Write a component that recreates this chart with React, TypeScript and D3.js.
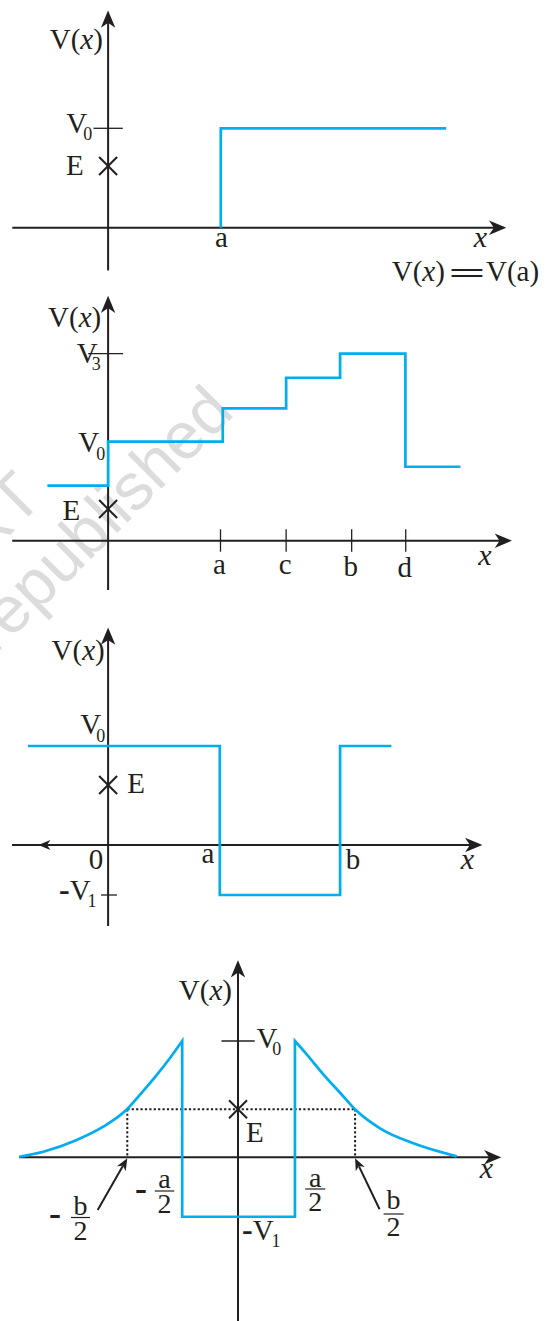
import React from 'react'
import * as d3 from 'd3'

const INK = '#231f20'
const BLUE = '#00aeef'
const SERIF = "'Liberation Serif', 'Times New Roman', Times, serif"
const SANS = "'Liberation Sans', Arial, sans-serif"

// panel 1 - potential step at x = a
const P1_STEP: [number, number][] = [[1, 0], [1, 1], [3, 1]]
const P1_E = 0.62
const P1_X_EXTENT = [-0.85, 3.51]
const P1_Y_EXTENT = [-0.43, 2.16]

// panel 2 - staircase, edges in units of a, levels in units of V0
const P2_EDGES = [-0.54, 0, 1.02, 1.584, 2.064, 2.645, 3.135]
const P2_LEVELS = [0.556, 1, 1.337, 1.646, 1.89, 0.747, 0.747]
const P2_TICKS = [
  { label: 'a', x: 1 },
  { label: 'c', x: 1.584 },
  { label: 'b', x: 2.167 },
  { label: 'd', x: 2.648 },
]
const P2_V3 = 1.89
const P2_E = 0.32
const P2_X_EXTENT = [-0.853, 3.57]
const P2_Y_EXTENT = [-0.498, 2.448]

// panel 3 - square well between a and b
const P3_EDGES = [-0.718, 1, 2.077, 2.536]
const P3_LEVELS = [1, -0.505, 1, 1]
const P3_V1 = -0.505
const P3_B = 2.077
const P3_E = 0.606
const P3_X_EXTENT = [-0.86, 3.327]
const P3_LEFT_HEAD = -0.624
const P3_Y_EXTENT = [-0.818, 2.17]

// panel 4 - well with decaying walls, x in units of b/2
const P4_LEFT: [number, number][] = [
  [-1.92, 0.005], [-1.709, 0.048], [-1.416, 0.149], [-1.183, 0.263],
  [-0.972, 0.415], [-0.85, 0.55], [-0.72, 0.7], [-0.6, 0.85], [-0.49, 1.0],
]
const P4_RIGHT: [number, number][] = [
  [0.5, 1.0], [0.603, 0.886], [0.749, 0.714], [0.896, 0.555], [1.027, 0.413],
  [1.247, 0.249], [1.539, 0.12], [1.92, 0.008],
]
const P4_WELL = [-0.49, 0.5]
const P4_V1 = -0.511
const P4_E = 0.413
const P4_B_HALF = [-0.972, 1.028]
const P4_ARROW_TAILS: [number, number][] = [[-1.232, -0.453], [1.243, -0.447]]
const P4_X_EXTENT = [-1.921, 2.29]
const P4_Y_EXTENT = [-1.41, 1.673]

type Scale = d3.ScaleLinear<number, number>

function Head({ x, y, angle, len = 12, half = 5 }: { x: number; y: number; angle: number; len?: number; half?: number }) {
  const d = `M0,0L${-len},${-half}L${-len * 0.72},0L${-len},${half}Z`
  return <path d={d} transform={`translate(${x},${y}) rotate(${angle})`} fill={INK} />
}

function Axes({ x, y, xExt, yExt }: { x: Scale; y: Scale; xExt: number[]; yExt: number[] }) {
  const x0 = x(0)
  const y0 = y(0)
  return (
    <g stroke={INK} strokeWidth={2}>
      <line x1={x(xExt[0])} x2={x(xExt[1]) - 8} y1={y0} y2={y0} />
      <line x1={x0} x2={x0} y1={y(yExt[0])} y2={y(yExt[1]) + 8} />
      <Head x={x(xExt[1])} y={y0} angle={0} />
      <Head x={x0} y={y(yExt[1])} angle={-90} />
    </g>
  )
}

function Cross({ cx, cy, r = 9 }: { cx: number; cy: number; r?: number }) {
  return (
    <g stroke={INK} strokeWidth={2}>
      <line x1={cx - r} y1={cy - r} x2={cx + r} y2={cy + r} />
      <line x1={cx - r} y1={cy + r} x2={cx + r} y2={cy - r} />
    </g>
  )
}

function T({ x, y, anchor = 'start', size = 29, italic = false, children }: any) {
  return (
    <text x={x} y={y} textAnchor={anchor} fontFamily={SERIF} fontSize={size} fill={INK} fontStyle={italic ? 'italic' : 'normal'}>
      {children}
    </text>
  )
}

function VxLabel({ x, y }: { x: number; y: number }) {
  return (
    <T x={x} y={y} anchor="end">
      V(<tspan fontStyle="italic">x</tspan>)
    </T>
  )
}

function SubLabel({ x, y, sub, dx, dy = 6.7, minus = false }: { x: number; y: number; sub: string; dx: number; dy?: number; minus?: boolean }) {
  return (
    <T x={x} y={y}>
      {minus && <tspan fontWeight="bold" fontSize={32}>-</tspan>}
      V<tspan dx={dx} dy={dy} fontSize={18}>{sub}</tspan>
    </T>
  )
}

function Fraction({ cx, num, numY, barY, denY, w }: { cx: number; num: string; numY: number; barY: number; denY: number; w: number }) {
  return (
    <g>
      <T x={cx} y={numY} anchor="middle" size={28}>{num}</T>
      <line x1={cx - w / 2} x2={cx + w / 2} y1={barY} y2={barY} stroke={INK} strokeWidth={1.2} />
      <T x={cx} y={denY} anchor="middle" size={28}>2</T>
    </g>
  )
}

function Minus({ x, y }: { x: number; y: number }) {
  return (
    <text x={x} y={y} fontFamily={SERIF} fontSize={36} fontWeight="bold" fill={INK}>-</text>
  )
}

function Panel1() {
  const x = d3.scaleLinear().domain([0, 1]).range([108.1, 220.8])
  const y = d3.scaleLinear().domain([0, 1]).range([227.7, 128.3])
  const line = d3.line<[number, number]>().x(d => x(d[0])).y(d => y(d[1]))
  return (
    <g>
      <Axes x={x} y={y} xExt={P1_X_EXTENT} yExt={P1_Y_EXTENT} />
      <line x1={x(0) - 14.6} x2={x(0) + 14.7} y1={y(1)} y2={y(1)} stroke={INK} strokeWidth={1.3} />
      <path d={line(P1_STEP) ?? ''} fill="none" stroke={BLUE} strokeWidth={2.7} />
      <Cross cx={x(0)} cy={y(P1_E)} />
      <VxLabel x={x(0) - 5.2} y={48.5} />
      <SubLabel x={66.3} y={y(1) + 5} sub="0" dx={-4} />
      <T x={x(0) - 24.4} y={y(P1_E) + 9} anchor="end">E</T>
      <T x={x(1) + 0.7} y={y(0) + 19} anchor="middle">a</T>
      <T x={480.5} y={y(0) + 19} anchor="middle" size={30} italic>x</T>
      <T x={391.7} y={280.7}>V(<tspan fontStyle="italic">x</tspan>)</T>
      <text x={448.3} y={282.5} fontFamily={SERIF} fontSize={29} fontWeight="bold" fill={INK} textLength={37.7} lengthAdjust="spacingAndGlyphs">=</text>
      <T x={486} y={280.7}>V(a)</T>
    </g>
  )
}

function Panel2() {
  const x = d3.scaleLinear().domain([0, 1]).range([108.1, 220.5])
  const y = d3.scaleLinear().domain([0, 1]).range([540.7, 441.7])
  const pts = P2_EDGES.map((e, i) => [e, P2_LEVELS[i]] as [number, number])
  const line = d3.line<[number, number]>().x(d => x(d[0])).y(d => y(d[1])).curve(d3.curveStepAfter)
  return (
    <g>
      <Axes x={x} y={y} xExt={P2_X_EXTENT} yExt={P2_Y_EXTENT} />
      <line x1={x(0) - 20} x2={x(0) + 15} y1={y(P2_V3)} y2={y(P2_V3)} stroke={INK} strokeWidth={1.3} />
      {P2_TICKS.map(t => (
        <g key={t.label}>
          <line x1={x(t.x)} x2={x(t.x)} y1={y(0) - 11.4} y2={y(0) + 11} stroke={INK} strokeWidth={1.3} />
          <T x={x(t.x) - 1} y={y(0) + 33.6 + (t.label === 'd' ? 3 : t.label === 'b' ? 1.5 : 0)} anchor="middle">{t.label}</T>
        </g>
      ))}
      <path d={line(pts) ?? ''} fill="none" stroke={BLUE} strokeWidth={2.7} />
      <Cross cx={x(0)} cy={y(P2_E)} />
      <VxLabel x={x(0) - 6.9} y={326.7} />
      <SubLabel x={76.7} y={y(P2_V3) + 9.7} sub="3" dx={-6} />
      <SubLabel x={78.3} y={y(1) + 10} sub="0" dx={-3} dy={8.3} />
      <T x={x(0) - 28} y={y(P2_E) + 11} anchor="end">E</T>
      <T x={485} y={565} anchor="middle" size={30} italic>x</T>
    </g>
  )
}

function Panel3() {
  const x = d3.scaleLinear().domain([0, 1]).range([108.1, 219.8])
  const y = d3.scaleLinear().domain([0, 1]).range([845, 746])
  const pts = P3_EDGES.map((e, i) => [e, P3_LEVELS[i]] as [number, number])
  const line = d3.line<[number, number]>().x(d => x(d[0])).y(d => y(d[1])).curve(d3.curveStepAfter)
  return (
    <g>
      <Axes x={x} y={y} xExt={P3_X_EXTENT} yExt={P3_Y_EXTENT} />
      <Head x={x(P3_LEFT_HEAD)} y={y(0)} angle={180} />
      <line x1={x(0) - 7} x2={x(0) + 8.8} y1={y(P3_V1)} y2={y(P3_V1)} stroke={INK} strokeWidth={1.3} />
      <path d={line(pts) ?? ''} fill="none" stroke={BLUE} strokeWidth={2.7} />
      <Cross cx={x(0)} cy={y(P3_E)} />
      <VxLabel x={x(0) - 3.4} y={660} />
      <SubLabel x={80.2} y={y(1) - 12} sub="0" dx={-5} dy={7.7} />
      <SubLabel x={59} y={y(P3_V1) + 5} sub="1" dx={-3} minus />
      <T x={127.3} y={y(P3_E) + 8.3}>E</T>
      <T x={x(0) - 12} y={869.3} anchor="middle">0</T>
      <T x={x(1) - 11.8} y={863.3} anchor="middle">a</T>
      <T x={x(P3_B) + 13} y={869.3} anchor="middle">b</T>
      <T x={467.5} y={869.3} anchor="middle" size={30} italic>x</T>
    </g>
  )
}

function Panel4() {
  const x = d3.scaleLinear().domain([0, 1]).range([238, 351.9])
  const y = d3.scaleLinear().domain([0, 1]).range([1157.3, 1041])
  const curve = d3.line<[number, number]>().x(d => x(d[0])).y(d => y(d[1])).curve(d3.curveMonotoneX)
  const well = `L${x(P4_WELL[0])},${y(P4_V1)}L${x(P4_WELL[1])},${y(P4_V1)}`
  const d = (curve(P4_LEFT) ?? '') + well + (curve(P4_RIGHT) ?? '').replace(/^M/, 'L')
  const yE = y(P4_E)
  return (
    <g>
      <Axes x={x} y={y} xExt={P4_X_EXTENT} yExt={P4_Y_EXTENT} />
      <line x1={x(0) - 16.5} x2={x(0) + 16.7} y1={y(1)} y2={y(1)} stroke={INK} strokeWidth={1.6} />
      <g stroke={INK} strokeWidth={2} strokeDasharray="2.2 2.2" fill="none">
        <line x1={x(P4_B_HALF[0])} x2={x(P4_B_HALF[1])} y1={yE} y2={yE} />
        {P4_B_HALF.map(b => <line key={b} x1={x(b)} x2={x(b)} y1={yE} y2={y(0)} />)}
      </g>
      <path d={d} fill="none" stroke={BLUE} strokeWidth={2.7} strokeLinejoin="miter" />
      <Cross cx={x(0)} cy={yE} />
      {P4_ARROW_TAILS.map((t, i) => {
        const tx = x(t[0]), ty = y(t[1])
        const hx = x(P4_B_HALF[i]), hy = y(0) + 1
        const ang = (Math.atan2(hy - ty, hx - tx) * 180) / Math.PI
        const k = 9 / Math.hypot(hx - tx, hy - ty)
        return (
          <g key={i}>
            <line x1={tx} y1={ty} x2={hx - (hx - tx) * k} y2={hy - (hy - ty) * k} stroke={INK} strokeWidth={2} />
            <Head x={hx} y={hy} angle={ang} len={12} half={5} />
          </g>
        )
      })}
      <VxLabel x={232} y={1000} />
      <SubLabel x={256.4} y={y(1) + 7.3} sub="0" dx={-5} />
      <SubLabel x={242} y={y(P4_V1) + 23.3} sub="1" dx={-2} minus />
      <T x={x(0) + 8} y={yE + 32.4}>E</T>
      <T x={486.3} y={1178.3} anchor="middle" size={30} italic>x</T>
      <Minus x={49} y={1225} />
      <Fraction cx={80.5} num="b" numY={1215} barY={1217.5} denY={1239.8} w={19} />
      <Minus x={135} y={1199.5} />
      <Fraction cx={164.5} num="a" numY={1188.3} barY={1191} denY={1213.3} w={19.5} />
      <Fraction cx={315.2} num="a" numY={1186.7} barY={1189} denY={1211} w={20} />
      <Fraction cx={393.6} num="b" numY={1209.3} barY={1214} denY={1236} w={20} />
    </g>
  )
}

export default function App() {
  return (
    <svg width={547} height={1321} style={{ position: 'absolute', left: 0, top: 0, background: '#fff' }}>
      <rect width={547} height={1321} fill="#fff" />
      <g fill="#dcdcdc" fontFamily={SANS} fontSize={66}>
        <text transform="translate(236,414) rotate(-45)" textAnchor="end">republished</text>
        <text transform="translate(45,500) rotate(-45)" textAnchor="end">NCERT</text>
      </g>
      <Panel1 />
      <Panel2 />
      <Panel3 />
      <Panel4 />
    </svg>
  )
}
